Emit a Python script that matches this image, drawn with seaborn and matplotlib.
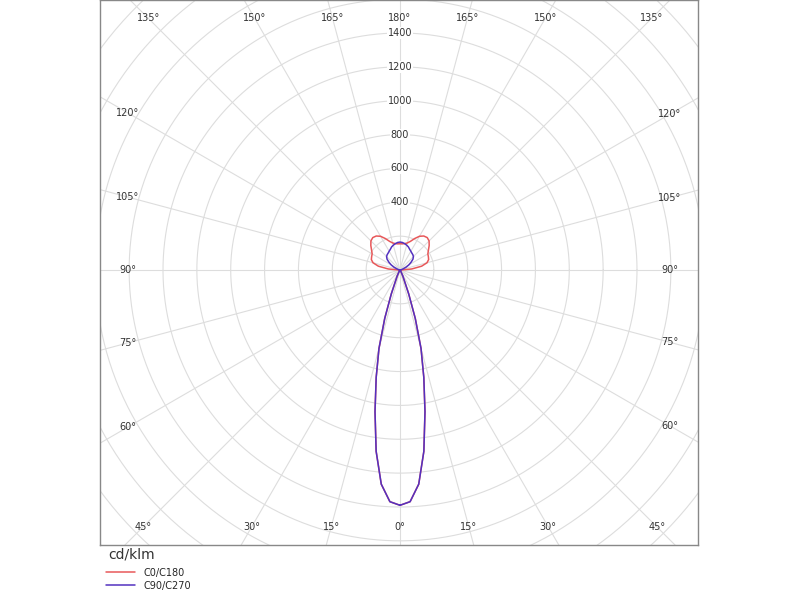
import numpy as np
import matplotlib
matplotlib.use("Agg")
import matplotlib.pyplot as plt
import seaborn as sns

# gamma angles (deg) and intensities (cd/klm)
gamma = [0, 2.5, 5, 7.5, 10, 12.5, 15, 17.5, 20, 25, 30, 40, 50, 60, 70, 80, 90,
         95, 100, 105, 110, 115, 120, 125, 130, 135, 140, 145, 150, 155, 160, 165, 170, 175, 180]
c0_c180 = [1390, 1370, 1270, 1080, 850, 650, 480, 300, 150, 40, 10, 3, 2, 1, 1, 2, 10,
           70, 130, 165, 180, 185, 190, 205, 225, 243, 250, 245, 230, 205, 180, 165, 158, 155, 155]
c90_c270 = [1390, 1370, 1270, 1080, 850, 650, 480, 300, 150, 40, 10, 3, 2, 1, 1, 1, 1,
            2, 5, 10, 20, 40, 60, 80, 100, 112, 118, 122, 128, 135, 145, 152, 158, 163, 165]
ring_values = list(range(200, 3001, 200))
ring_labels = [400, 600, 800, 1000, 1200, 1400]
angle_ticks = list(range(0, 181, 15))

sns.set_style("white")
plt.rcParams['font.family'] = ['DejaVu Sans']

fig = plt.figure(figsize=(8, 6), dpi=100)
ax = fig.add_axes([0.125, 0.0917, 0.7475, 0.9083])
scale = 1400 / 237.0  # cd per pixel
xl, xr, yb, yt = -300 * scale, 298 * scale, -275 * scale, 270 * scale
ax.set_xlim(xl, xr)
ax.set_ylim(yb, yt)
ax.set_aspect('auto')
ax.set_xticks([])
ax.set_yticks([])
for s in ax.spines.values():
    s.set_color('#888888')
    s.set_linewidth(1)

grid = '#dddddd'
t = np.linspace(0, 2 * np.pi, 400)
for r in ring_values:
    ax.plot(r * np.cos(t), r * np.sin(t), color=grid, lw=0.8, zorder=1)

R = 4000
for a in range(0, 360, 15):
    th = np.radians(a)
    ax.plot([0, R * np.sin(th)], [0, -R * np.cos(th)], color=grid, lw=0.8, zorder=1)

# angle labels at box edge
pad = 14 * scale
for side in (-1, 1):
    for a in angle_ticks:
        if side == -1 and a in (0, 180):
            continue
        th = np.radians(a)
        dx, dy = side * np.sin(th), -np.cos(th)
        ts = []
        if abs(dx) > 1e-9:
            ts.append(((xr if dx > 0 else xl) - np.sign(dx) * 2 * pad) / dx)
        if abs(dy) > 1e-9:
            ts.append(((yt if dy > 0 else yb) - np.sign(dy) * pad * 1.3) / dy)
        k = min(x for x in ts if x > 0)
        ax.text(k * dx, k * dy, f"{a}°", ha='center', va='center', fontsize=7, color='#333333')

for v in ring_labels:
    ax.text(0, v, str(v), ha='center', va='center', fontsize=7, color='#333333',
            bbox=dict(facecolor='white', edgecolor='none', pad=0.5))

def draw(vals, color, label):
    g = np.radians(np.array(gamma))
    v = np.array(vals)
    x = np.concatenate([v * np.sin(g), (-v * np.sin(g))[::-1]])
    y = np.concatenate([-v * np.cos(g), (-v * np.cos(g))[::-1]])
    ax.plot(x, y, color=color, lw=1.1, label=label, zorder=3)

draw(c0_c180, '#e8585a', 'C0/C180')
draw(c90_c270, '#5331c0', 'C90/C270')

fig.text(0.135, 0.075, 'cd/klm', fontsize=10, color='#333333', va='center')
h, l = ax.get_legend_handles_labels()
fig.legend(h, l, loc='upper left', bbox_to_anchor=(0.128, 0.06), frameon=False,
           fontsize=7, handlelength=3, labelspacing=0.3, borderaxespad=0)

fig.savefig('out.png', dpi=100)
